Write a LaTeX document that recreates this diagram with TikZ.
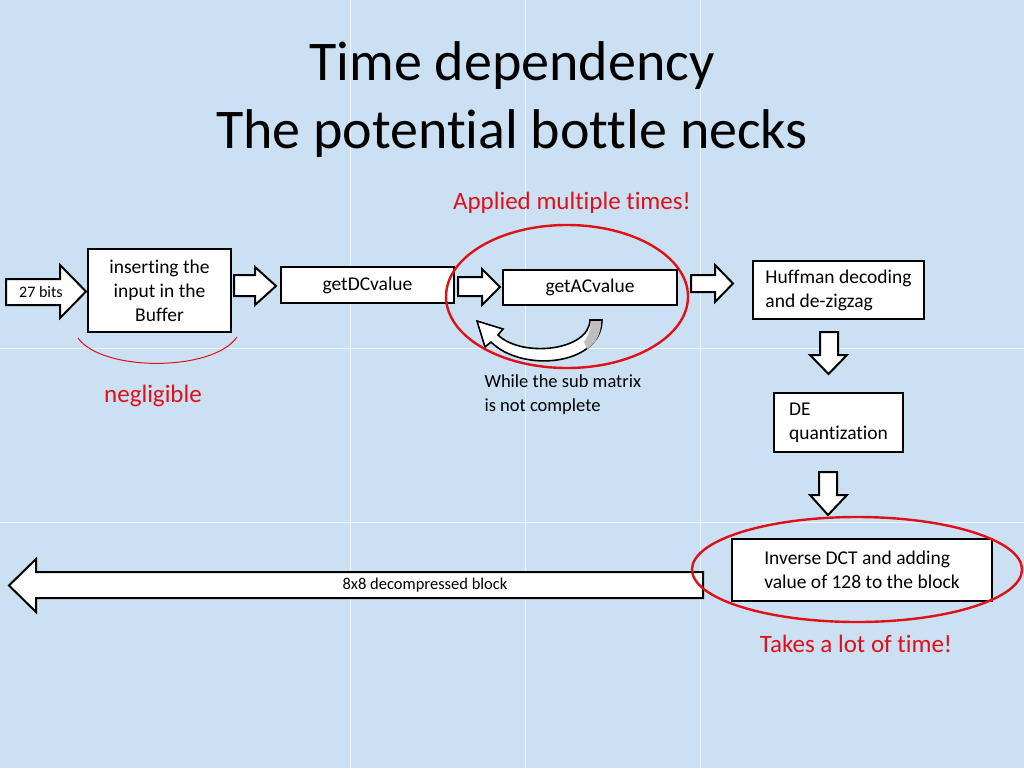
\documentclass[tikz,border=0pt]{standalone}
\usepackage{fontspec}
\setmainfont{Carlito}[Ligatures={NoCommon}]
\usetikzlibrary{positioning}

\definecolor{slideblue}{RGB}{204,224,243}
\definecolor{markred}{RGB}{224,16,24}
\definecolor{ribbongray}{RGB}{190,190,190}

\tikzset{
    stage/.style={draw, line width=1.4pt, fill=white, font=\fontsize{19.5}{24}\selectfont, inner sep=0pt},
    leftstage/.style={stage, align=left, inner xsep=7pt},
    blockarrow/.style={draw, line width=2pt, fill=white, line join=miter},
    remark/.style={text=markred, font=\fontsize{25}{30}\selectfont, anchor=base},
    redring/.style={draw=markred, line width=2.4pt},
    smalltext/.style={font=\fontsize{16.5}{19}\selectfont}
}

\begin{document}
\begin{tikzpicture}[x=1pt, y=-1pt]
    \useasboundingbox (0,0) rectangle (1024,768);
    \fill[slideblue] (0,0) rectangle (1024,768);
    \foreach \gx in {350,525,700}
        \draw[white, line width=0.8pt, opacity=0.7] (\gx,0) -- (\gx,768);
    \foreach \gy in {348,522}
        \draw[white, line width=0.8pt, opacity=0.7] (0,\gy) -- (1024,\gy);

    % title
    \node[anchor=base, font=\fontsize{56}{68}\selectfont] (title1) at (512,80) {Time dependency};
    \node[anchor=base, font=\fontsize{56}{68}\selectfont] (title2) at (512,148) {The potential bottle necks};

    % stages
    \node[stage, minimum width=143, minimum height=83, align=center] (buffer) at (159.5,290.5)
        {inserting the\\input in the\\Buffer};
    \node[stage, minimum width=173, minimum height=36] (dc) at (367.5,285) {getDCvalue};
    \node[stage, minimum width=174, minimum height=35] (ac) at (590,287.5) {getACvalue};
    \node[leftstage, minimum width=171, minimum height=58] (huff) at (838.5,290)
        {Huffman decoding\\and de-zigzag};
    \node[leftstage, inner xsep=8pt, minimum width=129, minimum height=59] (dequant) at (838.5,422.5)
        {DE\\quantization};
    \node[leftstage, line width=2pt, inner xsep=20pt, minimum width=260, minimum height=62] (idct) at (862,570)
        {Inverse DCT and adding\\value of 128 to the block};

    % block arrows
    \draw[blockarrow] (6,279) -- (60,279) -- (60,265) -- (86,291.5) -- (60,318) -- (60,305) -- (6,305) -- cycle;
    \node[smalltext, font=\fontsize{16}{19}\selectfont] (bits) at (41,292) {27 bits};
    \draw[blockarrow] (234,275) -- (255,275) -- (255,267) -- (276,286) -- (255,305) -- (255,296) -- (234,296) -- cycle;
    \draw[blockarrow] (458,277) -- (482,277) -- (482,269) -- (500,287) -- (482,305) -- (482,296) -- (458,296) -- cycle;
    \draw[blockarrow] (691,275) -- (715,275) -- (715,265) -- (733,283.5) -- (715,302) -- (715,292) -- (691,292) -- cycle;
    \draw[blockarrow] (820,332) -- (838,332) -- (838,355) -- (847,355) -- (828.5,374) -- (810,355) -- (820,355) -- cycle;
    \draw[blockarrow] (819,472) -- (837,472) -- (837,495) -- (847,495) -- (828,515) -- (810,495) -- (819,495) -- cycle;
    \draw[blockarrow] (703,572) -- (36,572) -- (36,559) -- (9,585.5) -- (36,612) -- (36,598) -- (703,598) -- cycle;
    \node[smalltext] (block) at (425,585) {8x8 decompressed block};

    % loop back on getACvalue
    \draw[blockarrow, line width=1.6pt] (602,320) .. controls (601,366) and (522,373) .. (491,342)
        -- (485,347) -- (477,321) -- (503,329) -- (498,335)
        .. controls (522,358) and (589,351) .. (590,320) -- cycle;
    \fill[ribbongray] (590.8,321) -- (601.2,321) .. controls (601,334) and (596,343) .. (587,349)
        -- (584,342) .. controls (588,337) and (590.5,330) .. (590.8,321) -- cycle;
    \node[anchor=base west, align=left, font=\fontsize{18.5}{24}\selectfont] (loopnote) at (481,411)
        {While the sub matrix\\is not complete};

    % remarks
    \draw[redring] (567,296.5) ellipse [x radius=121, y radius=71.5];
    \node[remark] (applied) at (572,209) {Applied multiple times!};
    \draw[markred, line width=1pt] (78,338) .. controls (102,372) and (213,372) .. (237,337);
    \node[remark] (negl) at (153,402) {negligible};
    \draw[redring] (857,569.5) ellipse [x radius=165, y radius=52.5];
    \node[remark] (takes) at (856,652) {Takes a lot of time!};
\end{tikzpicture}
\end{document}
